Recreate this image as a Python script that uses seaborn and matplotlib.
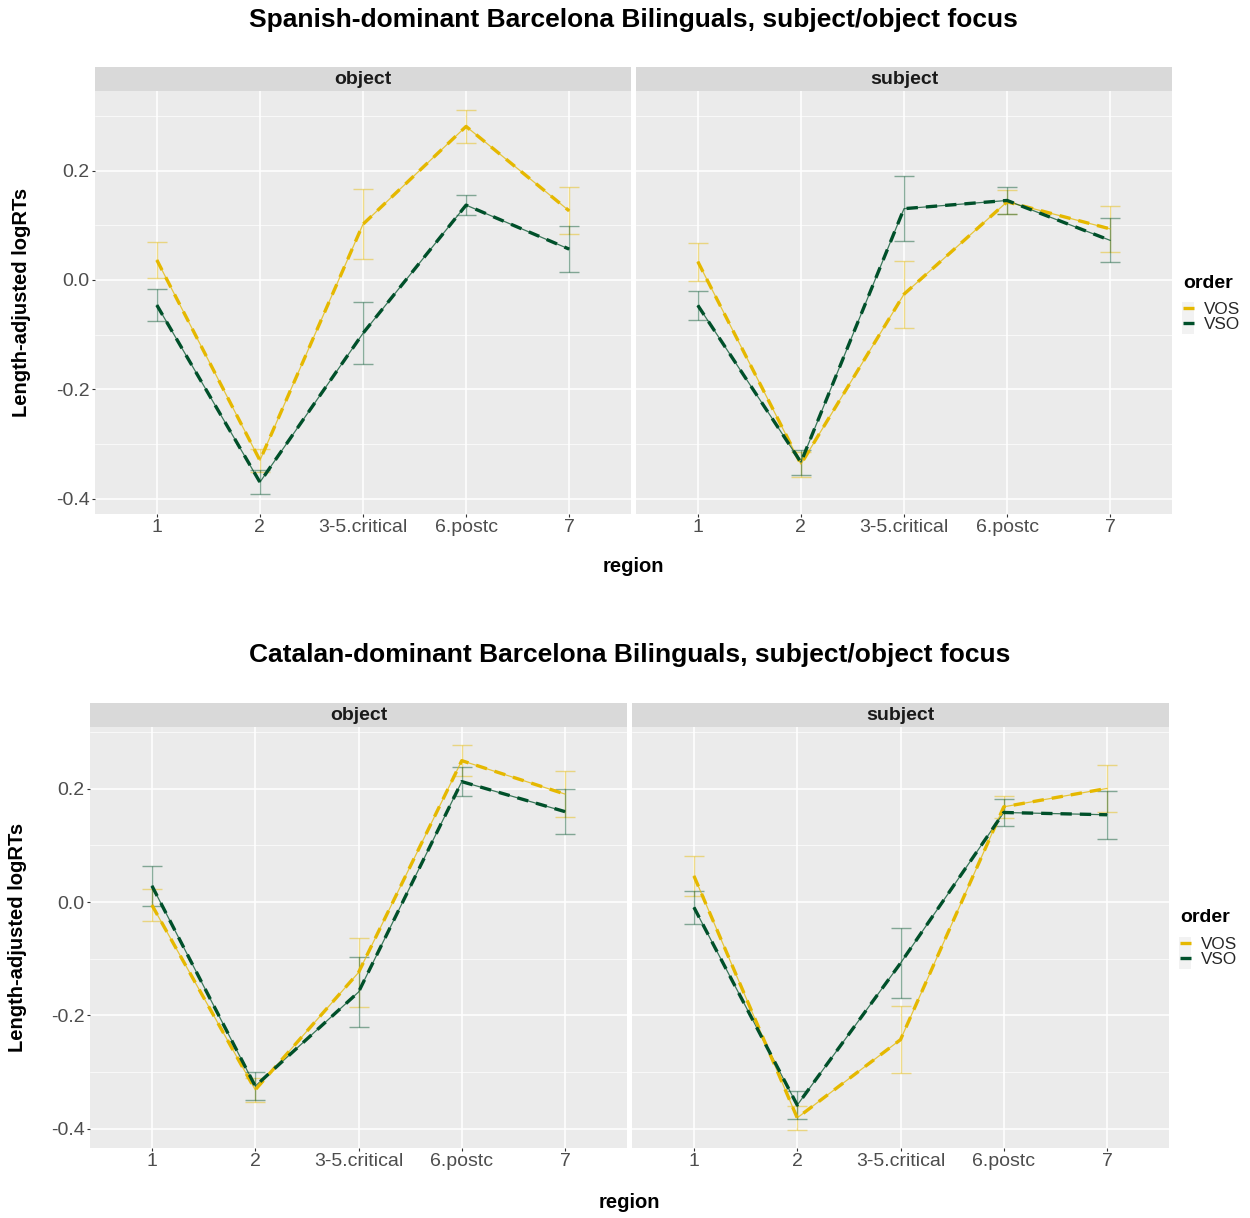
import numpy as np
import pandas as pd
import matplotlib
matplotlib.use("Agg")
import matplotlib.pyplot as plt
from matplotlib.lines import Line2D
from matplotlib.patches import Rectangle
import seaborn as sns

sns.set_theme(style="darkgrid")
plt.rcParams['font.family'] = ['Liberation Sans', 'DejaVu Sans']

regions = ["1", "2", "3-5.critical", "6.postc", "7"]
orders = ["VOS", "VSO"]
colors = {"VOS": "#E5B800", "VSO": "#00502A"}

titles = ["Spanish-dominant Barcelona Bilinguals, subject/object focus",
          "Catalan-dominant Barcelona Bilinguals, subject/object focus"]
facets = ["object", "subject"]

# Spanish-dominant
sp_obj_vos_mean = [0.0365, -0.330, 0.102, 0.281, 0.1265]
sp_obj_vos_se = [0.033, 0.021, 0.064, 0.030, 0.043]
sp_obj_vso_mean = [-0.046, -0.370, -0.0975, 0.137, 0.0565]
sp_obj_vso_se = [0.029, 0.0215, 0.0565, 0.019, 0.0415]
sp_sub_vos_mean = [0.0335, -0.337, -0.026, 0.143, 0.0935]
sp_sub_vos_se = [0.0345, 0.023, 0.061, 0.022, 0.0425]
sp_sub_vso_mean = [-0.0465, -0.3335, 0.1305, 0.1455, 0.0725]
sp_sub_vso_se = [0.0265, 0.0225, 0.0595, 0.0245, 0.0405]

# Catalan-dominant
ca_obj_vos_mean = [-0.0055, -0.3315, -0.1245, 0.2495, 0.1905]
ca_obj_vos_se = [0.0285, 0.0215, 0.0605, 0.0275, 0.0405]
ca_obj_vso_mean = [0.0285, -0.325, -0.159, 0.2125, 0.1595]
ca_obj_vso_se = [0.0355, 0.025, 0.062, 0.0255, 0.0395]
ca_sub_vos_mean = [0.046, -0.381, -0.243, 0.168, 0.2005]
ca_sub_vos_se = [0.035, 0.021, 0.059, 0.019, 0.0415]
ca_sub_vso_mean = [-0.0095, -0.3585, -0.108, 0.158, 0.154]
ca_sub_vso_se = [0.0285, 0.0245, 0.062, 0.024, 0.042]

panels = [
    {"object": {"VOS": (sp_obj_vos_mean, sp_obj_vos_se), "VSO": (sp_obj_vso_mean, sp_obj_vso_se)},
     "subject": {"VOS": (sp_sub_vos_mean, sp_sub_vos_se), "VSO": (sp_sub_vso_mean, sp_sub_vso_se)}},
    {"object": {"VOS": (ca_obj_vos_mean, ca_obj_vos_se), "VSO": (ca_obj_vso_mean, ca_obj_vso_se)},
     "subject": {"VOS": (ca_sub_vos_mean, ca_sub_vos_se), "VSO": (ca_sub_vso_mean, ca_sub_vso_se)}},
]

W, H = 1250, 1218
fig = plt.figure(figsize=(W / 100, H / 100), dpi=100)
fig.patch.set_facecolor("white")

def px_axes(x0, y0, x1, y1):
    return fig.add_axes([x0 / W, 1 - y1 / H, (x1 - x0) / W, (y1 - y0) / H])

layouts = [
    dict(title_y=20, strip=(67, 91), bottom=514, xs=[(95, 631), (636, 1172)],
         ylim=(-0.4282, 0.3458), xlabel_y=567, ylabel_x=22,
         legend_x=1183, legend_title_y=283, legend_y=302),
    dict(title_y=655, strip=(703, 727), bottom=1148, xs=[(90, 627), (632, 1169)],
         ylim=(-0.4342, 0.3089), xlabel_y=1203, ylabel_x=18,
         legend_x=1180, legend_title_y=918, legend_y=937),
]

grid_c = "white"
tick_c = "#4D4D4D"
xpos = np.arange(len(regions))
dash = (0, (3.4, 2.4))

for pi, (lay, pdata) in enumerate(zip(layouts, panels)):
    for fi, facet in enumerate(facets):
        x0, x1 = lay["xs"][fi]
        ax = px_axes(x0, lay["strip"][1], x1, lay["bottom"])
        ax.set_facecolor("#EBEBEB")
        rows = []
        for o in orders:
            m, s = pdata[facet][o]
            for r, xv, mv, sv in zip(regions, xpos, m, s):
                rows.append(dict(region=r, x=xv, mean=mv, se=sv, order=o))
        df = pd.DataFrame(rows)
        for o in orders:
            d = df[df.order == o]
            ax.errorbar(d["x"], d["mean"], yerr=d["se"], fmt="none",
                        ecolor=colors[o], alpha=0.45, elinewidth=1.0,
                        capsize=7, capthick=1.0, zorder=3)
        sns.lineplot(data=df, x="x", y="mean", hue="order", palette=colors,
                     hue_order=orders, ax=ax, legend=False, lw=0.9, alpha=0.75,
                     sort=False, zorder=4)
        sns.lineplot(data=df, x="x", y="mean", hue="order", palette=colors,
                     hue_order=orders, ax=ax, legend=False, lw=2.4,
                     linestyle=dash, sort=False, zorder=5)
        ax.set_xlim(-0.6, len(regions) - 1 + 0.6)
        ax.set_ylim(*lay["ylim"])
        ax.set_xticks(xpos)
        ax.set_yticks([-0.4, -0.2, 0.0, 0.2])
        ax.set_yticks([-0.3, -0.1, 0.1, 0.3], minor=True)
        ax.grid(True, which="major", color=grid_c, lw=1.1)
        ax.grid(True, which="minor", axis="y", color=grid_c, lw=0.5)
        ax.grid(False, which="minor", axis="x")
        ax.set_axisbelow(True)
        for sp in ax.spines.values():
            sp.set_visible(False)
        ax.set_xlabel("")
        ax.set_ylabel("")
        ax.tick_params(axis="both", which="major", length=2.5, width=0.8,
                       color="#333333", labelcolor=tick_c, labelsize=14, pad=0.8,
                       bottom=True, left=True)
        ax.tick_params(axis="y", which="major", pad=1.5)
        ax.tick_params(axis="both", which="minor", length=0)
        if fi == 0:
            ax.set_yticklabels(["-0.4", "-0.2", "0.0", "0.2"])
        else:
            ax.set_yticklabels([])
            ax.tick_params(axis="y", which="major", length=0)
        ax.set_xticklabels(regions)
        sax = px_axes(x0, lay["strip"][0], x1, lay["strip"][1])
        sax.set_facecolor("#D9D9D9")
        sax.grid(False)
        sax.set_xticks([]); sax.set_yticks([])
        for sp in sax.spines.values():
            sp.set_visible(False)
        sax.text(0.5, 0.47, facet, ha="center", va="center", fontsize=14,
                 fontweight="bold", color="#1A1A1A", transform=sax.transAxes)

    xmid = (lay["xs"][0][0] + lay["xs"][1][1]) / 2
    fig.text(xmid / W, 1 - lay["title_y"] / H, titles[pi], ha="center", va="center",
             fontsize=19, fontweight="bold", color="black")
    fig.text(xmid / W, 1 - lay["xlabel_y"] / H, "region", ha="center", va="center",
             fontsize=14.5, fontweight="bold", color="black")
    ymid = (lay["strip"][1] + lay["bottom"]) / 2
    fig.text(lay["ylabel_x"] / W, 1 - ymid / H, "Length-adjusted logRTs", ha="center",
             va="center", rotation=90, fontsize=14.5, fontweight="bold", color="black")
    # legend
    fig.text(lay["legend_x"] / W, 1 - lay["legend_title_y"] / H, "order", ha="left",
             va="center", fontsize=14, fontweight="bold", color="black")
    fig.patches.append(Rectangle(((lay["legend_x"] - 1) / W, 1 - (lay["legend_y"] + 32) / H),
                                 12 / W, 32 / H, transform=fig.transFigure,
                                 facecolor="#F2F2F2", edgecolor="none", zorder=0))
    handles = [Line2D([0], [0], color=colors[o], lw=2.4, linestyle=dash) for o in orders]
    fig.legend(handles, orders, loc="upper left",
               bbox_to_anchor=(lay["legend_x"] / W, 1 - lay["legend_y"] / H),
               frameon=False, fontsize=12.3,
               handlelength=0.65, handletextpad=0.6, labelspacing=0.0,
               borderpad=0.0, borderaxespad=0.0)

fig.savefig("out.png", dpi=100, facecolor="white")
